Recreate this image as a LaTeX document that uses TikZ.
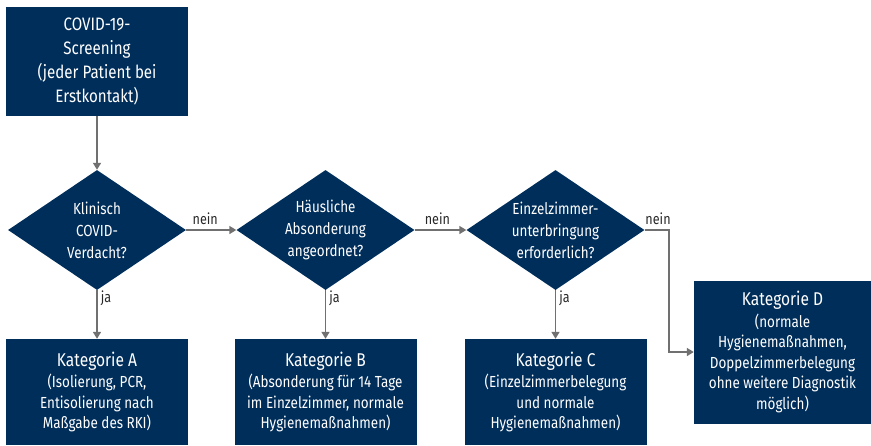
\documentclass[tikz,border=0pt]{standalone}
\usepackage{fontspec}
\setmainfont[FakeStretch=0.84]{Fira Sans}
\usetikzlibrary{shapes.geometric,arrows.meta}
\definecolor{navy}{RGB}{0,46,91}
\definecolor{linegray}{RGB}{112,112,112}
\definecolor{lbltext}{RGB}{40,40,40}
\begin{document}
\begin{tikzpicture}[x=1pt,y=-1pt,
  box/.style={fill=navy, text=white, align=center, inner sep=0pt, minimum width=182pt,
    font=\fontsize{16}{20.5}\selectfont},
  dia/.style={diamond, fill=navy, minimum width=178pt, minimum height=120pt, inner sep=0pt},
  diatext/.style={text=white, align=center, inner sep=0pt, font=\fontsize{16}{22}\selectfont},
  conn/.style={draw=linegray, line width=1.6pt, -{Triangle[length=7pt,width=8pt]}},
  lbl/.style={text=lbltext, inner sep=1pt, font=\fontsize{15}{17}\selectfont}]
\useasboundingbox (0,0) rectangle (871,445);

\node[box, minimum height=109pt, font=\fontsize{18}{24}\selectfont] (start) at (97,61.5)
  {COVID-19-\\Screening\\(jeder Patient bei\\Erstkontakt)};

\node[dia] (d1) at (97,230) {};
\node[diatext] (d1t) at (d1.center) {Klinisch\\COVID-\\Verdacht?};
\node[dia] (d2) at (325.5,230) {};
\node[diatext] (d2t) at (d2.center) {Häusliche\\Absonderung\\angeordnet?};
\node[dia] (d3) at (555.5,230) {};
\node[diatext] (d3t) at (d3.center) {Einzelzimmer-\\unterbringung\\erforderlich?};

\node[box, minimum height=106pt] (A) at (97,392)
  {{\fontsize{18.5}{22}\selectfont Kategorie A}\\[1pt](Isolierung, PCR,\\Entisolierung nach\\Maßgabe des RKI)};
\node[box, minimum height=106pt] (B) at (325.5,392)
  {{\fontsize{18.5}{22}\selectfont Kategorie B}\\[1pt](Absonderung für 14 Tage\\im Einzelzimmer, normale\\Hygienemaßnahmen)};
\node[box, minimum height=106pt] (C) at (555.5,392)
  {{\fontsize{18.5}{22}\selectfont Kategorie C}\\[1pt](Einzelzimmerbelegung\\und normale\\Hygienemaßnahmen)};
\node[box, minimum width=177pt, minimum height=143pt] (D) at (782.5,352)
  {{\fontsize{18.5}{22}\selectfont Kategorie D}\\[1pt](normale\\Hygienemaßnahmen,\\Doppelzimmerbelegung\\ohne weitere Diagnostik\\möglich)};

\coordinate (bend) at (669,230);

\draw[conn] (start) -- (d1);
\draw[conn] (d1) -- node[lbl, pos=0.38, above=4pt] {nein} (d2);
\draw[conn] (d2) -- node[lbl, pos=0.44, above=4pt] {nein} (d3);
\draw[conn] (d3.east) -- node[lbl, pos=0.55, above=4pt] {nein} (bend) |- (D.west);
\draw[conn] (d1) -- node[lbl, pos=0.16, right=2pt] {ja} (A);
\draw[conn] (d2) -- node[lbl, pos=0.16, right=2pt] {ja} (B);
\draw[conn] (d3) -- node[lbl, pos=0.16, right=2pt] {ja} (C);
\end{tikzpicture}
\end{document}
